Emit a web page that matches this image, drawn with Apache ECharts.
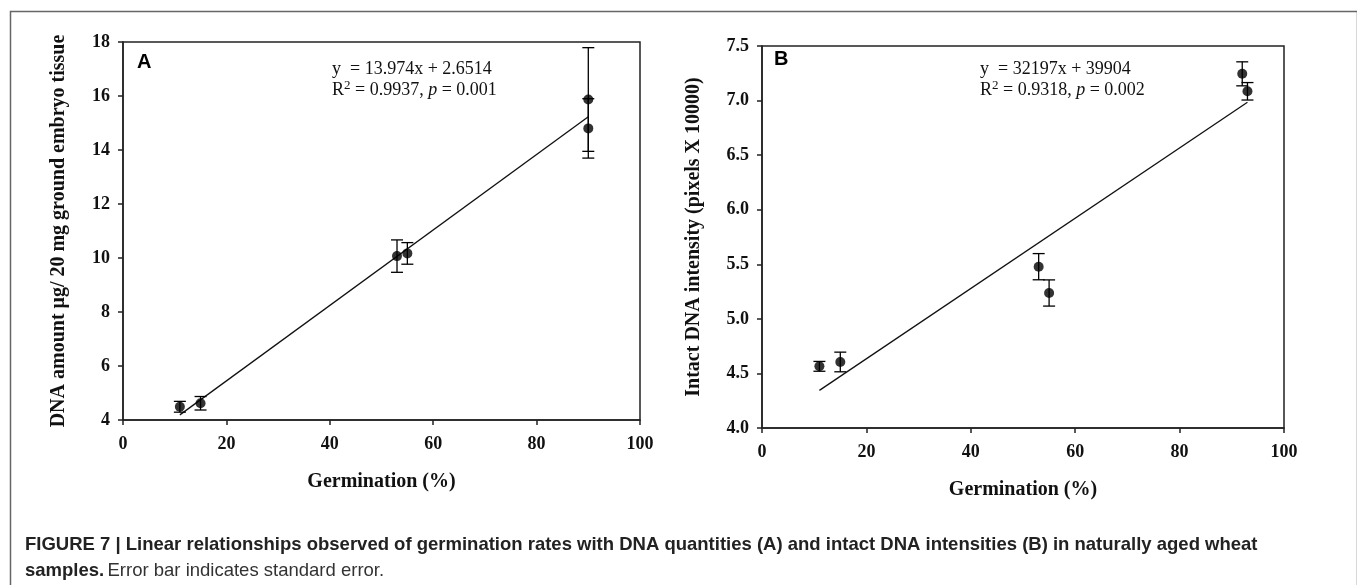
<!DOCTYPE html>
<html>
<head>
<meta charset="utf-8">
<script src="https://cdn.jsdelivr.net/npm/echarts@6/dist/echarts.min.js"></script>
<style>
  html, body { margin: 0; padding: 0; background: #fff; }
  #chart { width: 1357px; height: 585px; }
</style>
</head>
<body>
<div id="chart"></div>
<script>
// panel A: DNA amount vs germination
var germA = [11, 15, 53, 55, 90, 90];
var dnaA = [4.49, 4.62, 10.07, 10.17, 15.87, 14.8];
var errA = [0.2, 0.25, 0.6, 0.4, 1.92, 1.1];
var fitXA = [11, 90];
var fitYA = [4.19, 15.23];

// panel B: intact DNA intensity vs germination
var germB = [11, 15, 53, 55, 92, 93];
var intB = [4.565, 4.605, 5.478, 5.237, 7.245, 7.085];
var errB = [0.045, 0.09, 0.12, 0.12, 0.11, 0.08];
var fitXB = [11, 93];
var fitYB = [4.345, 6.985];

var xTicks = [0, 20, 40, 60, 80, 100];
var yTicksA = [4, 6, 8, 10, 12, 14, 16, 18];
var yTicksB = [4.0, 4.5, 5.0, 5.5, 6.0, 6.5, 7.0, 7.5];

var serif = 'Liberation Serif';
var sans = 'Liberation Sans';

function zip(xs, ys, es) {
  return xs.map(function (x, i) { return es ? [x, ys[i], es[i]] : [x, ys[i]]; });
}

// error bars with caps
function errorBar(params, api) {
  var x = api.value(0), y = api.value(1), e = api.value(2);
  var hi = api.coord([x, y + e]);
  var lo = api.coord([x, y - e]);
  var w = 6;
  var st = { stroke: '#000', lineWidth: 1.3 };
  return {
    type: 'group',
    children: [
      { type: 'line', shape: { x1: hi[0], y1: hi[1], x2: lo[0], y2: lo[1] }, style: st },
      { type: 'line', shape: { x1: hi[0] - w, y1: hi[1], x2: hi[0] + w, y2: hi[1] }, style: st },
      { type: 'line', shape: { x1: lo[0] - w, y1: lo[1], x2: lo[0] + w, y2: lo[1] }, style: st }
    ]
  };
}

function xAxisOf(idx) {
  return {
    type: 'value', gridIndex: idx, min: xTicks[0], max: xTicks[xTicks.length - 1], interval: 20,
    name: 'Germination (%)', nameLocation: 'middle', nameGap: 52,
    nameTextStyle: { fontFamily: serif, fontWeight: 'bold', fontSize: 20, color: '#111' },
    axisLine: { lineStyle: { color: '#222', width: 1.5 } },
    axisTick: { inside: false, length: 5, lineStyle: { color: '#222', width: 1.5 } },
    axisLabel: { fontFamily: serif, fontWeight: 'bold', fontSize: 18, color: '#111', margin: 15 },
    splitLine: { show: false }
  };
}

function yAxisOf(idx, ticks, name, gap, fmt) {
  return {
    type: 'value', gridIndex: idx, min: ticks[0], max: ticks[ticks.length - 1],
    interval: ticks[1] - ticks[0],
    name: name, nameLocation: 'middle', nameGap: gap, nameRotate: 90,
    nameTextStyle: { fontFamily: serif, fontWeight: 'bold', fontSize: 20, color: '#111' },
    axisLine: { show: true, lineStyle: { color: '#222', width: 1.5 } },
    axisTick: { show: true, length: 5, lineStyle: { color: '#222', width: 1.5 } },
    axisLabel: { fontFamily: serif, fontWeight: 'bold', fontSize: 18, color: '#111', margin: 13, formatter: fmt },
    splitLine: { show: false }
  };
}

var eqRich = {
  sup: { fontSize: 13, fontFamily: serif, fill: '#111', padding: [0, 0, 9, 0] },
  i: { fontStyle: 'italic', fontSize: 18, fontFamily: serif, fill: '#111' }
};

var chart = echarts.init(document.getElementById('chart'));
chart.setOption({
  backgroundColor: '#fff',
  animation: false,
  grid: [
    { left: 123, top: 42, width: 517, height: 378, show: true, borderColor: '#222', borderWidth: 1.5 },
    { left: 762, top: 46, width: 522, height: 382, show: true, borderColor: '#222', borderWidth: 1.5 }
  ],
  xAxis: [xAxisOf(0), xAxisOf(1)],
  yAxis: [
    yAxisOf(0, yTicksA, 'DNA amount μg/ 20 mg ground embryo tissue', 54, function (v) { return v; }),
    yAxisOf(1, yTicksB, 'Intact DNA intensity (pixels X 10000)', 58, function (v) { return v.toFixed(1); })
  ],
  series: [
    {
      type: 'line', xAxisIndex: 0, yAxisIndex: 0, data: zip(fitXA, fitYA),
      symbol: 'none', lineStyle: { color: '#111', width: 1.3 }, z: 2
    },
    {
      type: 'custom', xAxisIndex: 0, yAxisIndex: 0, data: zip(germA, dnaA, errA),
      renderItem: errorBar, encode: { x: 0, y: 1 }, z: 3
    },
    {
      type: 'scatter', xAxisIndex: 0, yAxisIndex: 0, data: zip(germA, dnaA),
      symbol: 'circle', symbolSize: 10, itemStyle: { color: '#000' }, z: 4
    },
    {
      type: 'line', xAxisIndex: 1, yAxisIndex: 1, data: zip(fitXB, fitYB),
      symbol: 'none', lineStyle: { color: '#111', width: 1.3 }, z: 2
    },
    {
      type: 'custom', xAxisIndex: 1, yAxisIndex: 1, data: zip(germB, intB, errB),
      renderItem: errorBar, encode: { x: 0, y: 1 }, z: 3
    },
    {
      type: 'scatter', xAxisIndex: 1, yAxisIndex: 1, data: zip(germB, intB),
      symbol: 'circle', symbolSize: 10, itemStyle: { color: '#000' }, z: 4
    }
  ],
  graphic: [
    // outer frame
    { type: 'rect', left: 8, top: 9, shape: { width: 1347, height: 600 },
      style: { fill: 'none', stroke: '#666', lineWidth: 1.5 }, silent: true },
    // panel letters
    { type: 'text', x: 137, y: 52, style: { text: 'A', font: 'bold 20px ' + sans, fill: '#000' } },
    { type: 'text', x: 774, y: 49, style: { text: 'B', font: 'bold 20px ' + sans, fill: '#000' } },
    // regression equations
    { type: 'text', x: 332, y: 59, style: {
      text: 'y  = 13.974x + 2.6514\nR{sup|2} = 0.9937, {i|p} = 0.001',
      font: '18px ' + serif, fill: '#111', lineHeight: 21, rich: eqRich
    } },
    { type: 'text', x: 980, y: 59, style: {
      text: 'y  = 32197x + 39904\nR{sup|2} = 0.9318, {i|p} = 0.002',
      font: '18px ' + serif, fill: '#111', lineHeight: 21, rich: eqRich
    } },
    // caption
    { type: 'text', x: 25, y: 532, style: {
      text: '{b|FIGURE 7 | Linear relationships observed of germination rates with DNA quantities (A) and intact DNA intensities (B) in naturally aged wheat}\n{b|samples.} {r|Error bar indicates standard error.}',
      fill: '#222', lineHeight: 26,
      rich: {
        b: { fontFamily: sans, fontWeight: 'bold', fontSize: 18.5, fill: '#222', lineHeight: 26 },
        r: { fontFamily: sans, fontSize: 18.5, fill: '#333', lineHeight: 26 }
      }
    } }
  ]
});
</script>
</body>
</html>
